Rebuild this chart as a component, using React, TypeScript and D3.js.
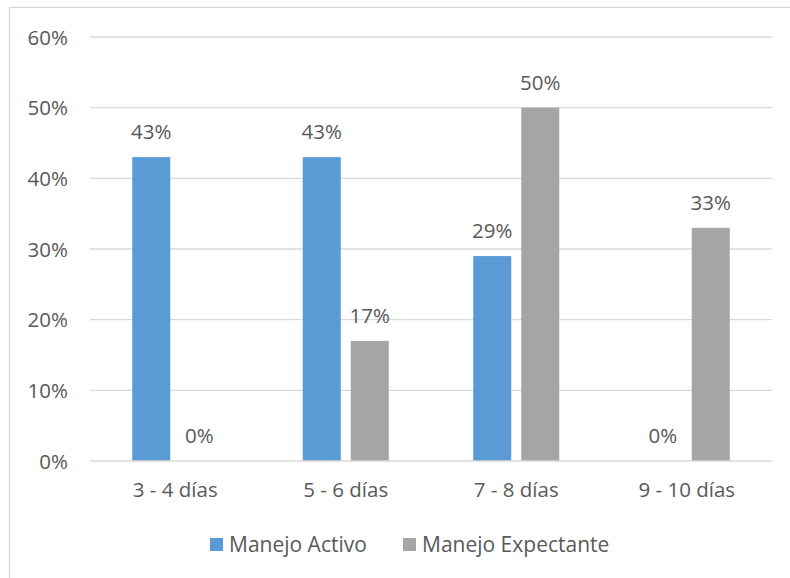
import React from "react";
import * as d3 from "d3";

const categories = ["3 - 4 días", "5 - 6 días", "7 - 8 días", "9 - 10 días"];
const seriesNames = ["Manejo Activo", "Manejo Expectante"];
const activo = [43, 43, 29, 0];
const expectante = [0, 17, 50, 33];
const yTicks = [0, 10, 20, 30, 40, 50, 60];
const colors = ["#5B9BD5", "#A5A5A5"];

const W = 790;
const H = 578;
const left = 90;
const right = 772;
const top = 37;
const bottom = 461;
const FONT = "'Open Sans', 'Noto Sans', sans-serif";
const TXT = "#595959";

export default function App() {
  const x = d3.scaleBand<string>().domain(categories).range([left, right]).padding(0);
  const y = d3.scaleLinear().domain([0, 60]).range([bottom, top]);
  const barW = 38;
  const gap = 10;
  const series = [activo, expectante];

  return (
    <>
      <style>{`body{margin:0}`}</style>
      <svg width={W} height={H} style={{ display: "block", background: "#fff" }}>
        <rect x={9.5} y={7.5} width={900} height={700} fill="none" stroke="#D9D9D9" strokeWidth={1.3} />
        {yTicks.map((t) => (
          <g key={t}>
            {t > 0 && (
              <line x1={left} x2={right} y1={y(t)} y2={y(t)} stroke="#D9D9D9" strokeWidth={1.3} />
            )}
            <text x={68} y={y(t) + 7.5} textAnchor="end" fontFamily={FONT} fontSize={20.5} fill={TXT}>
              {t}%
            </text>
          </g>
        ))}
        {categories.map((c, i) => {
          const cx = (x(c) as number) + x.bandwidth() / 2;
          return (
            <g key={c}>
              {series.map((s, k) => {
                const bx = k === 0 ? cx - gap / 2 - barW : cx + gap / 2;
                const v = s[i];
                return (
                  <g key={k}>
                    <rect x={bx} y={y(v)} width={barW} height={bottom - y(v)} fill={colors[k]} />
                    <text
                      x={bx + barW / 2}
                      y={y(v) - 18}
                      textAnchor="middle"
                      fontFamily={FONT}
                      fontSize={20.5}
                      fill={TXT}
                    >
                      {v}%
                    </text>
                  </g>
                );
              })}
              <text x={cx} y={497} textAnchor="middle" fontFamily={FONT} fontSize={20.5} fill={TXT}>
                {c}
              </text>
            </g>
          );
        })}
        <line x1={left} x2={right} y1={bottom} y2={bottom} stroke="#D9D9D9" strokeWidth={1.3} />
        {seriesNames.map((n, k) => {
          const lx = k === 0 ? 210 : 403;
          return (
            <g key={n}>
              <rect x={lx} y={538} width={13} height={13} fill={colors[k]} />
              <text x={lx + 19} y={552} fontFamily={FONT} fontSize={21} fill={TXT}>
                {n}
              </text>
            </g>
          );
        })}
      </svg>
    </>
  );
}
